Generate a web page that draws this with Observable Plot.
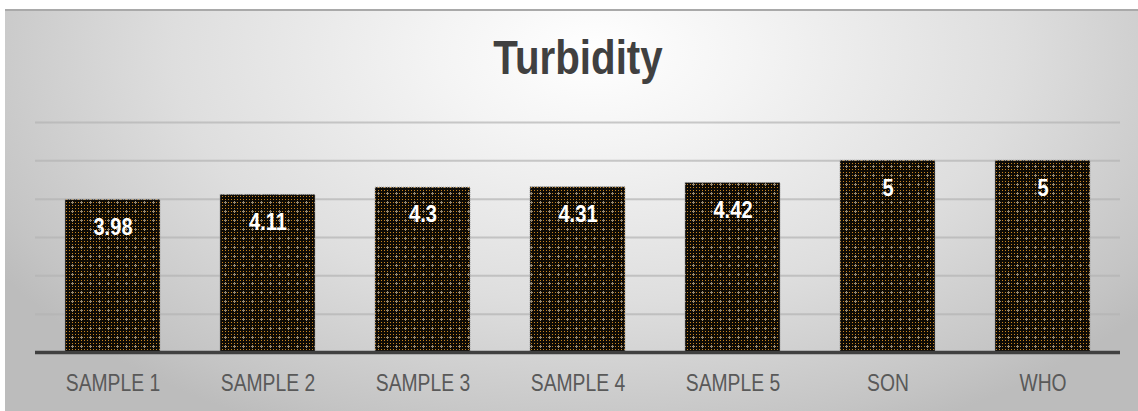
<!DOCTYPE html>
<html>
<head>
<meta charset="utf-8">
<script src="https://cdn.jsdelivr.net/npm/d3@7"></script>
<script src="https://cdn.jsdelivr.net/npm/@observablehq/plot@0.6"></script>
<style>
  html, body { margin: 0; padding: 0; background: #ffffff; }
  #card {
    position: absolute;
    left: 5px;
    top: 9px;
    width: 1133px;
    height: 402px;
    border-top: 2px solid #a9a9a9;
    box-sizing: border-box;
    background: radial-gradient(ellipse 62% 105% at 52% 10%, #ffffff 0%, #f4f4f4 22%, #dedede 60%, #c4c4c4 92%, #bcbcbc 100%);
    overflow: hidden;
  }
  #card svg { position: absolute; left: 0; top: -2px; }
</style>
</head>
<body>
<div id="card"></div>
<script>
// Turbidity (NTU) of the five water samples against the SON and WHO limits
const categories = ["SAMPLE 1", "SAMPLE 2", "SAMPLE 3", "SAMPLE 4", "SAMPLE 5", "SON", "WHO"];
const turbidity = [3.98, 4.11, 4.3, 4.31, 4.42, 5, 5];
const gridTicks = [1, 2, 3, 4, 5, 6];
const chartTitle = "Turbidity";

const rows = categories.map((name, i) => ({name, value: turbidity[i]}));

const sans = "'Liberation Sans', Arial, sans-serif";
// horizontal squeeze that gives the text a narrow face
const narrowScale = 0.84;

const chart = Plot.plot({
  width: 1133,
  height: 402,
  marginTop: 113,
  marginBottom: 59,
  marginLeft: 30,
  marginRight: 18,
  style: {background: "transparent", fontFamily: sans, overflow: "visible"},
  x: {domain: categories, paddingInner: 0.39, paddingOuter: 0.195, label: null},
  y: {domain: [0, 6], axis: null},
  marks: [
    Plot.ruleY(gridTicks, {stroke: "#b4b4b4", strokeWidth: 2, strokeOpacity: 0.7}),
    Plot.barY(rows, {
      x: "name",
      y: "value",
      fill: "url(#speckle)",
      stroke: "#9a9a9a",
      strokeWidth: 1,
      strokeDasharray: "1,1"
    }),
    Plot.ruleY([0], {stroke: "#404040", strokeWidth: 3.5}),
    Plot.text(rows, {
      x: "name",
      y: "value",
      text: d => String(d.value),
      dy: 27,
      lineAnchor: "middle",
      fill: "#ffffff",
      fontSize: 24,
      fontWeight: "bold"
    }),
    Plot.axisX({
      tickSize: 0,
      tickPadding: 22,
      fontSize: 23,
      fill: "#595959",
      label: null
    }),
    Plot.text([chartTitle], {
      frameAnchor: "top",
      dy: -64,
      lineAnchor: "middle",
      fontSize: 48,
      fontWeight: "bold",
      fill: "#404040"
    })
  ]
});

// Narrow every label around its own anchor point
for (const t of chart.querySelectorAll("text")) {
  const tr = t.getAttribute("transform") || "";
  t.setAttribute("transform", `${tr} scale(${narrowScale},1)`);
}

// Speckled fill for the bars: black ground with orange dots and faint crosses
const ns = "http://www.w3.org/2000/svg";
const defs = document.createElementNS(ns, "defs");
const pattern = document.createElementNS(ns, "pattern");
pattern.setAttribute("id", "speckle");
pattern.setAttribute("patternUnits", "userSpaceOnUse");
pattern.setAttribute("width", "9");
pattern.setAttribute("height", "9");
const cells = [
  [0, 0, 9, 9, "#0d0a05"],
  [1, 1, 1, 1, "#c8841f"], [4, 1, 1, 1, "#c8841f"], [7, 1, 1, 1, "#c8841f"],
  [1, 4, 1, 1, "#c8841f"], [7, 4, 1, 1, "#c8841f"],
  [1, 7, 1, 1, "#c8841f"], [4, 7, 1, 1, "#c8841f"], [7, 7, 1, 1, "#c8841f"],
  [4, 3, 1, 3, "#9a8a70"], [3, 4, 3, 1, "#9a8a70"]
];
for (const [x, y, w, h, c] of cells) {
  const r = document.createElementNS(ns, "rect");
  r.setAttribute("x", x); r.setAttribute("y", y);
  r.setAttribute("width", w); r.setAttribute("height", h);
  r.setAttribute("fill", c);
  pattern.appendChild(r);
}
defs.appendChild(pattern);
chart.insertBefore(defs, chart.firstChild);

document.getElementById("card").appendChild(chart);
</script>
</body>
</html>
